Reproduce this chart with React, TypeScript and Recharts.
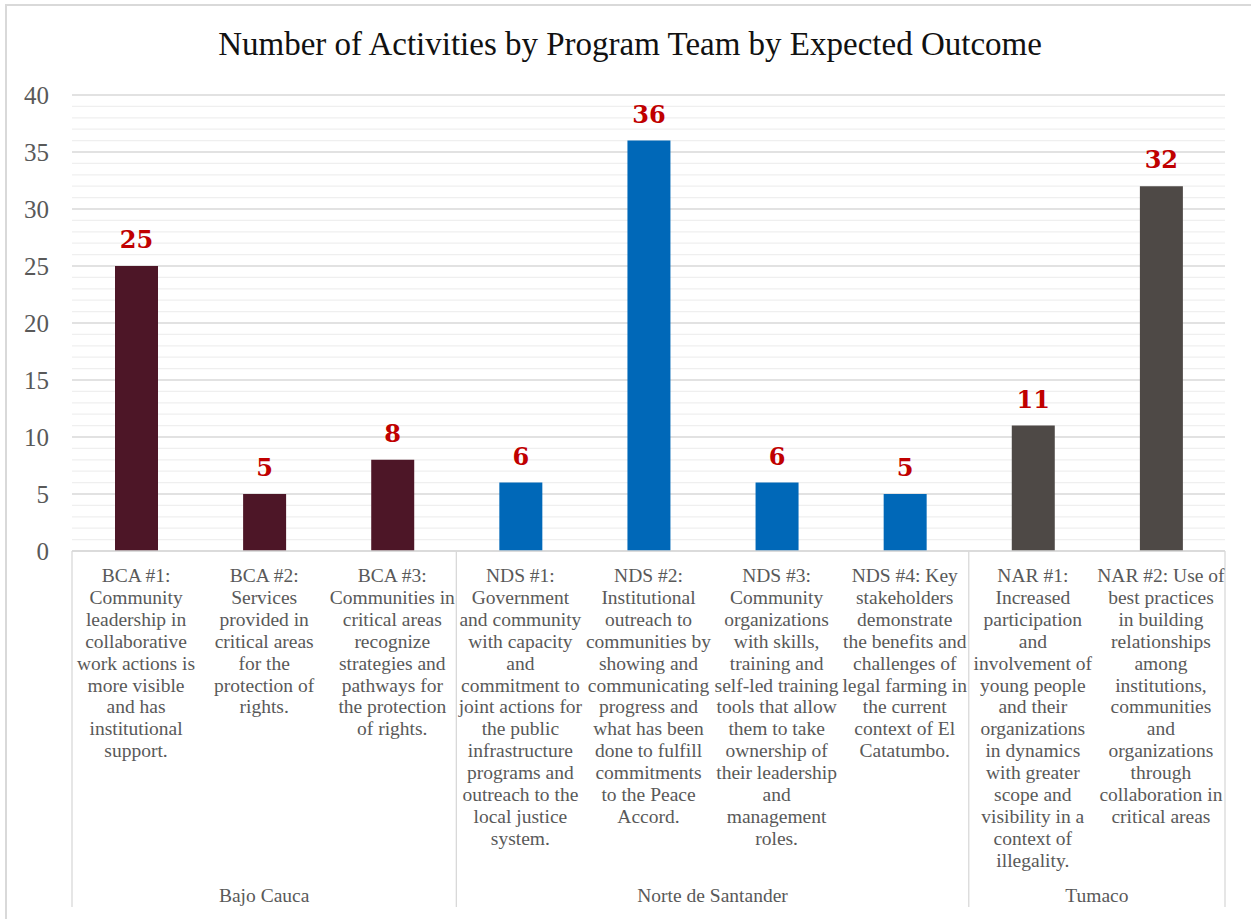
import React from 'react';
import { BarChart, Bar, XAxis, YAxis, CartesianGrid, Cell, LabelList } from 'recharts';

const TITLE = 'Number of Activities by Program Team by Expected Outcome';

const categories: string[] = [
  'BCA #1:\nCommunity\nleadership in\ncollaborative\nwork actions is\nmore visible\nand has\ninstitutional\nsupport.',
  'BCA #2:\nServices\nprovided in\ncritical areas\nfor the\nprotection of\nrights.',
  'BCA #3:\nCommunities in\ncritical areas\nrecognize\nstrategies and\npathways for\nthe protection\nof rights.',
  'NDS #1:\nGovernment\nand community\nwith capacity\nand\ncommitment to\njoint actions for\nthe public\ninfrastructure\nprograms and\noutreach to the\nlocal justice\nsystem.',
  'NDS #2:\nInstitutional\noutreach to\ncommunities by\nshowing and\ncommunicating\nprogress and\nwhat has been\ndone to fulfill\ncommitments\nto the Peace\nAccord.',
  'NDS #3:\nCommunity\norganizations\nwith skills,\ntraining and\nself-led training\ntools that allow\nthem to take\nownership of\ntheir leadership\nand\nmanagement\nroles.',
  'NDS #4: Key\nstakeholders\ndemonstrate\nthe benefits and\nchallenges of\nlegal farming in\nthe current\ncontext of El\nCatatumbo.',
  'NAR #1:\nIncreased\nparticipation\nand\ninvolvement of\nyoung people\nand their\norganizations\nin dynamics\nwith greater\nscope and\nvisibility in a\ncontext of\nillegality.',
  'NAR #2: Use of\nbest practices\nin building\nrelationships\namong\ninstitutions,\ncommunities\nand\norganizations\nthrough\ncollaboration in\ncritical areas',
];

const values: number[] = [25, 5, 8, 6, 36, 6, 5, 11, 32];

const teams: string[] = [
  'Bajo Cauca', 'Bajo Cauca', 'Bajo Cauca',
  'Norte de Santander', 'Norte de Santander', 'Norte de Santander', 'Norte de Santander',
  'Tumaco', 'Tumaco',
];

const groupNames: string[] = ['Bajo Cauca', 'Norte de Santander', 'Tumaco'];

const yTicks: number[] = [
  0, 1, 2, 3, 4, 5, 6, 7, 8, 9, 10, 11, 12, 13, 14, 15, 16, 17, 18, 19, 20,
  21, 22, 23, 24, 25, 26, 27, 28, 29, 30, 31, 32, 33, 34, 35, 36, 37, 38, 39, 40,
];
const MAJOR_STEP = 5;

const TEAM_COLORS: Record<string, string> = {
  'Bajo Cauca': '#4D1627',
  'Norte de Santander': '#0068B8',
  'Tumaco': '#4E4946',
};

const data = categories.map((label, i) => ({ label, value: values[i], team: teams[i], idx: i }));

// group boundaries and centres (in category units)
const groupCounts = groupNames.map((g) => teams.filter((t) => t === g).length);
const groupBounds: number[] = [0];
groupCounts.forEach((c) => groupBounds.push(groupBounds[groupBounds.length - 1] + c));
const groupCenters = groupNames.map((_, i) => (groupBounds[i] + groupBounds[i + 1]) / 2);

const SERIF = '"Liberation Serif", "Times New Roman", serif';
const TEXT_GREY = '#595959';
const LINE_GREY = '#D9D9D9';
const MINOR_GREY = '#EFEFEF';

const CategoryTick = (props: any) => {
  const { x, y, payload } = props;
  const lines = String(payload.value).split('\n');
  return (
    <g>
      {lines.map((ln, i) => (
        <text
          key={i}
          x={x}
          y={y + 30 + i * 21.9}
          textAnchor="middle"
          fontFamily={SERIF}
          fontSize={19.5}
          fill={TEXT_GREY}
        >
          {ln}
        </text>
      ))}
    </g>
  );
};

const GroupTick = (props: any) => {
  const { x, y, payload } = props;
  const idx = groupCenters.indexOf(payload.value);
  const name = idx >= 0 ? groupNames[idx] : '';
  return (
    <text x={x} y={y + 30} textAnchor="middle" fontFamily={SERIF} fontSize={19.5} fill={TEXT_GREY}>
      {name}
    </text>
  );
};

const EmptyTick = () => <g />;

const GridLine = (p: any) => {
  const major = typeof p.index === 'number' ? p.index % MAJOR_STEP === 0 : false;
  return (
    <line
      key={p.key}
      x1={p.x1}
      y1={p.y1}
      x2={p.x2}
      y2={p.y2}
      stroke={major ? LINE_GREY : MINOR_GREY}
      strokeWidth={1.3}
      fill="none"
    />
  );
};

export default function App() {
  return (
    <div style={{ position: 'relative', width: 1251, height: 919, background: '#fff', overflow: 'hidden' }}>
      <style>{'body{margin:0;}'}</style>
      <div
        style={{
          position: 'absolute',
          left: 5,
          top: 4,
          width: 1246,
          height: 915,
          borderLeft: `2px solid ${LINE_GREY}`,
          borderTop: `2px solid ${LINE_GREY}`,
          boxSizing: 'border-box',
        }}
      />
      <div
        style={{
          position: 'absolute',
          left: 0,
          top: 26,
          width: 1260,
          textAlign: 'center',
          fontFamily: SERIF,
          fontSize: 33,
          lineHeight: '36px',
          color: '#111',
        }}
      >
        {TITLE}
      </div>
      <div style={{ position: 'absolute', left: 0, top: 0 }}>
        <BarChart
          width={1251}
          height={919}
          data={data}
          margin={{ top: 95, right: 26, bottom: 7, left: 0 }}
        >
          <CartesianGrid vertical={false} horizontal={GridLine} />
          <XAxis
            xAxisId={0}
            type="number"
            dataKey="idx"
            domain={[0, 9]}
            allowDataOverflow
            ticks={groupBounds}
            interval={0}
            height={1}
            tickSize={356}
            tick={EmptyTick}
            tickLine={{ stroke: LINE_GREY, strokeWidth: 1.3 }}
            axisLine={{ stroke: LINE_GREY, strokeWidth: 1.3 }}
          />
          <XAxis
            xAxisId={1}
            dataKey="label"
            height={320}
            interval={0}
            tickLine={false}
            axisLine={false}
            tickSize={0}
            tickMargin={0}
            tick={CategoryTick}
          />
          <XAxis
            xAxisId={2}
            type="number"
            dataKey="idx"
            domain={[0, 9]}
            allowDataOverflow
            ticks={groupCenters}
            interval={0}
            height={40}
            tickLine={false}
            axisLine={false}
            tickSize={0}
            tickMargin={0}
            tick={GroupTick}
          />
          <YAxis
            domain={[0, 40]}
            ticks={yTicks}
            interval={0}
            width={72}
            axisLine={false}
            tickLine={false}
            tickSize={0}
            tickMargin={23}
            tickFormatter={(v: number) => (v % MAJOR_STEP === 0 ? String(v) : '')}
            tick={{ fontFamily: SERIF, fontSize: 25, fill: TEXT_GREY }}
          />
          <Bar dataKey="value" xAxisId={1} barSize={43} isAnimationActive={false}>
            {data.map((d, i) => (
              <Cell key={i} fill={TEAM_COLORS[d.team]} />
            ))}
            <LabelList
              dataKey="value"
              position="top"
              offset={18}
              fill="#C00000"
              fontFamily='"DejaVu Serif", serif'
              fontWeight="bold"
              fontSize={24}
            />
          </Bar>
        </BarChart>
      </div>
    </div>
  );
}
